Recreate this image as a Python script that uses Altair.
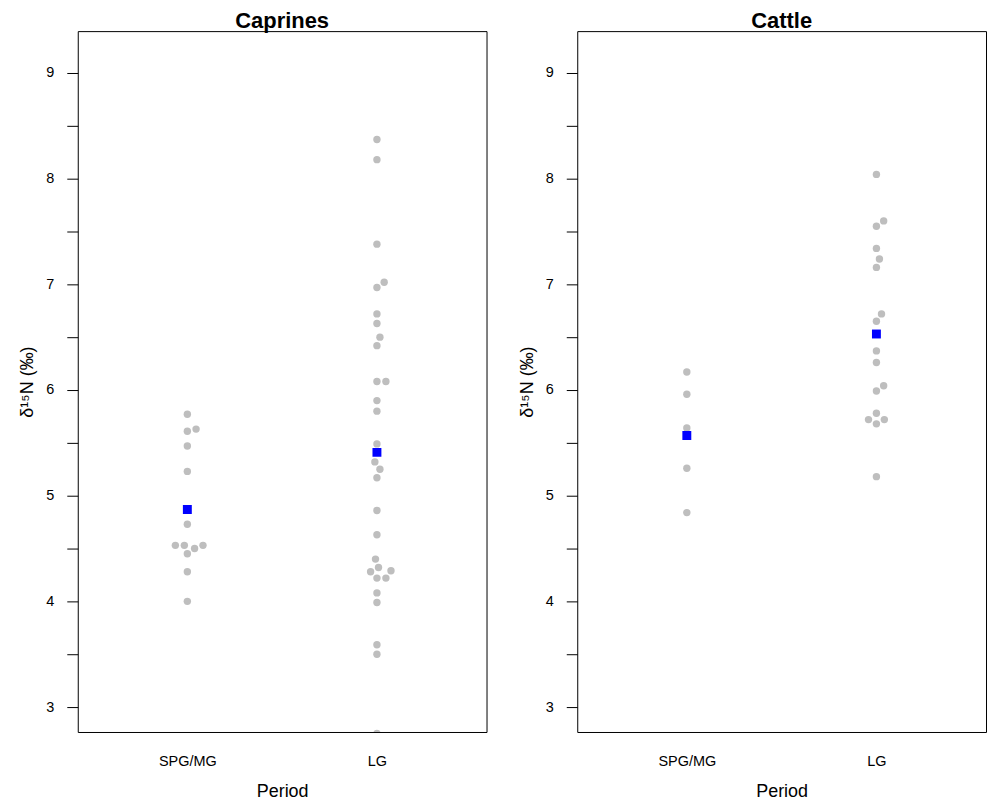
import altair as alt
import numpy as np
import pandas as pd

# ---- data ----
periods = ["SPG/MG", "LG"]
species = ["Caprines", "Cattle"]

caprines_spg = [5.77, 5.61, 5.63, 5.47, 5.23, 4.73, 4.53, 4.53, 4.50, 4.53, 4.45, 4.28, 4.00]
caprines_lg = [8.37, 8.18, 7.38, 7.02, 6.97, 6.72, 6.63, 6.50, 6.42, 6.08, 6.08, 5.90, 5.80,
               5.49, 5.32, 5.25, 5.17, 4.86, 4.63, 4.40, 4.32, 4.29, 4.28, 4.22, 4.22, 4.08,
               3.99, 3.59, 3.50, 2.75]
cattle_spg = [6.17, 5.96, 5.64, 5.26, 4.84]
cattle_lg = [8.04, 7.60, 7.55, 7.34, 7.24, 7.16, 6.72, 6.65, 6.37, 6.26, 6.04, 5.99, 5.78,
             5.72, 5.72, 5.68, 5.18]
means_caprines = [4.87, 5.41]
means_cattle = [5.57, 6.53]

y_ticks = [3, 3.5, 4, 4.5, 5, 5.5, 6, 6.5, 7, 7.5, 8, 8.5, 9]

# ---- layout constants ----
W, H = 410, 703
YMIN, YMAX = 2.764, 9.396
XMIN, XMAX = 0.422, 2.578
D = 9.0  # swarm spacing in pixels
FONT = "Liberation Sans"


def swarm_offsets(values):
    """Simple beeswarm (ascending priority): returns x offsets in data units."""
    ypx = np.array(values, dtype=float) * H / (YMAX - YMIN)
    order = np.argsort(ypx, kind="stable")
    xs = np.zeros(len(values))
    placed = []
    for idx in order:
        y = ypx[idx]
        near = [j for j in placed if abs(ypx[j] - y) < D]
        if near:
            plus, minus = [], []
            for j in near:
                off = np.sqrt(D * D - (y - ypx[j]) ** 2)
                plus.append(xs[j] + off)
                minus.append(xs[j] - off)
            cands = [0.0] + plus + minus
            best, bestabs = 0.0, np.inf
            for c in cands:
                bad = any((xs[j] - c) ** 2 + (ypx[j] - y) ** 2 < D * D - 0.01 for j in near)
                if not bad and abs(c) < bestabs - 1e-9:
                    best, bestabs = c, abs(c)
            xs[idx] = best
        placed.append(idx)
    return xs * (XMAX - XMIN) / W


def points_frame(groups):
    rows = []
    for gi, vals in enumerate(groups):
        offs = swarm_offsets(vals)
        for v, o in zip(vals, offs):
            rows.append({"pos": gi + 1 + o, "value": v, "period": periods[gi]})
    return pd.DataFrame(rows)


def means_frame(means):
    return pd.DataFrame({"pos": [i + 1 for i in range(len(means))], "value": means,
                         "period": periods[: len(means)]})


label_expr = " : ".join(
    f"datum.value == {i + 1} ? '{p}'" for i, p in enumerate(periods)
) + " : ''"

x_enc = alt.X(
    "pos:Q",
    scale=alt.Scale(domain=[XMIN, XMAX], nice=False, zero=False),
    axis=alt.Axis(
        values=[1, 2], labelExpr=label_expr, ticks=False, tickSize=0, domain=False, grid=False,
        title="Period", labelFontSize=14.5, labelColor="black", labelPadding=23,
        titleFontSize=18, titleFontWeight="normal", titleColor="black", titlePadding=14,
        labelFont=FONT, titleFont=FONT,
    ),
)
y_enc = alt.Y(
    "value:Q",
    scale=alt.Scale(domain=[YMIN, YMAX], nice=False, zero=False),
    axis=alt.Axis(
        values=y_ticks, labelExpr="datum.value % 1 == 0 ? format(datum.value, 'd') : ''",
        grid=False, domain=False, tickSize=11, tickColor="black", tickWidth=1,
        labelFontSize=14.5, labelColor="black", labelPadding=13, labelFlush=False,
        labelOverlap=False, title="δ¹⁵N (‰)", titleFontSize=18, titleFontWeight="normal",
        titleColor="black", titlePadding=9, labelFont=FONT, titleFont=FONT,
    ),
)


def panel(name, groups, means):
    pts = alt.Chart(points_frame(groups)).mark_circle(
        color="#BEBEBE", opacity=1, size=55, clip=True
    ).encode(x=x_enc, y=y_enc)
    mn = alt.Chart(means_frame(means)).mark_square(
        color="#0000FF", opacity=1, size=80, clip=True
    ).encode(x=x_enc, y=y_enc)
    return alt.layer(pts, mn).properties(
        width=W, height=H,
        title=alt.TitleParams(name, fontSize=22, fontWeight="bold", font=FONT,
                              color="black", anchor="middle", offset=-2),
    )


chart = alt.hconcat(
    panel(species[0], [caprines_spg, caprines_lg], means_caprines),
    panel(species[1], [cattle_spg, cattle_lg], means_cattle),
    spacing=30,
).properties(
    padding={"left": 18, "top": 8, "right": 0, "bottom": 0},
    background="white",
).configure_view(stroke="black", strokeWidth=1)

chart.save("out.html", embed_options={"renderer": "svg", "actions": False})
